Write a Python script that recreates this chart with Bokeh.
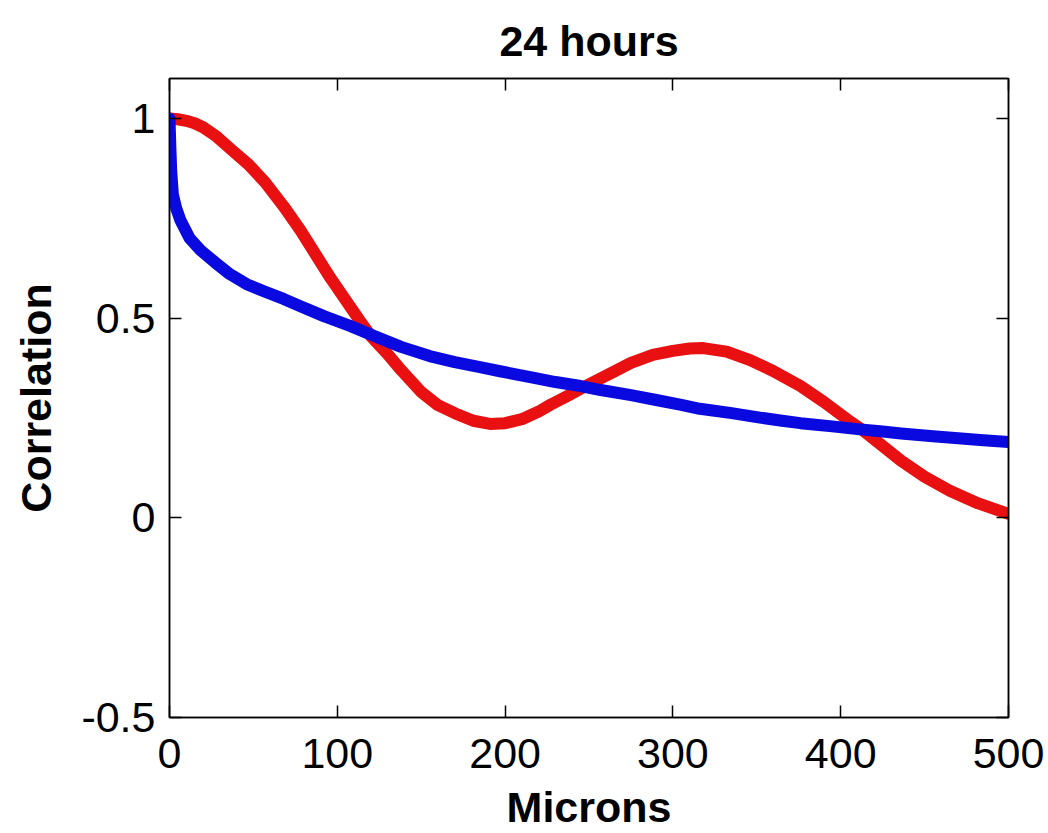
from bokeh.plotting import figure
from bokeh.models import LinearAxis, FixedTicker, Range1d, CustomJSTickFormatter
from bokeh.embed import file_html
from bokeh.resources import INLINE

title_text = "24 hours"
x_label = "Microns"
y_label = "Correlation"

x_ticks = [0, 100, 200, 300, 400, 500]
y_ticks = [-0.5, 0, 0.5, 1]
y_tick_labels = ["-0.5", "0", "0.5", "1"]

red_x = [0, 5, 10, 15, 20, 28, 36, 47, 57, 68, 78, 87, 96, 105, 114, 120, 130, 138, 150, 160, 170, 181, 191,
         200, 210, 220, 227, 238, 248, 262, 275, 288, 300, 310, 318, 332, 346, 360, 376, 390, 406, 413, 425,
         436, 450, 465, 482, 500]
red_y = [1.0, 0.998, 0.994, 0.988, 0.978, 0.955, 0.925, 0.885, 0.84, 0.78, 0.72, 0.66, 0.60, 0.545, 0.49,
         0.455, 0.41, 0.37, 0.315, 0.282, 0.262, 0.243, 0.235, 0.237, 0.247, 0.266, 0.283, 0.307, 0.33, 0.36,
         0.388, 0.408, 0.418, 0.424, 0.425, 0.416, 0.395, 0.367, 0.33, 0.29, 0.24, 0.22, 0.18, 0.143, 0.103,
         0.068, 0.036, 0.01]

blue_x = [0, 0.5, 1, 2, 4, 6.5, 12, 18.5, 27, 36, 46, 57, 68, 78, 92, 108, 122, 138, 155, 170, 185, 197,
          215, 230, 245, 257, 275, 290, 305, 316, 335, 350, 365, 376, 395, 410, 425, 436, 455, 470, 485, 500]
blue_y = [1.0, 0.93, 0.87, 0.81, 0.775, 0.745, 0.70, 0.67, 0.64, 0.61, 0.585, 0.566, 0.548, 0.53, 0.505,
          0.48, 0.455, 0.428, 0.405, 0.39, 0.377, 0.367, 0.352, 0.34, 0.33, 0.32, 0.307, 0.295, 0.283, 0.273,
          0.262, 0.252, 0.243, 0.237, 0.229, 0.222, 0.216, 0.211, 0.204, 0.199, 0.194, 0.19]

FONT = "Liberation Sans"

p = figure(width=1048, height=833, output_backend="svg", toolbar_location=None,
           x_range=Range1d(0, 500), y_range=Range1d(-0.5, 1.1),
           min_border_left=169, min_border_right=40, min_border_top=78, min_border_bottom=113)
p.xgrid.visible = False
p.ygrid.visible = False
p.background_fill_color = "white"
p.border_fill_color = "white"
p.outline_line_color = "black"
p.outline_line_width = 1.5

p.title.text = title_text
p.title.align = "center"
p.title.vertical_align = "top"
p.title.text_font = FONT
p.title.text_font_size = "43px"
p.title.text_font_style = "bold"
p.title.text_color = "black"
p.title.standoff = 24

for ax in p.xaxis:
    ax.ticker = FixedTicker(ticks=x_ticks)
    ax.axis_label = x_label
    ax.major_label_standoff = 21
    ax.axis_label_standoff = 12
for ax in p.yaxis:
    ax.ticker = FixedTicker(ticks=y_ticks)
    ax.axis_label = y_label
    ax.major_label_overrides = {t: l for t, l in zip(y_ticks, y_tick_labels)}
    ax.major_label_standoff = 14
    ax.axis_label_standoff = 18

for ax in list(p.xaxis) + list(p.yaxis):
    ax.major_label_text_font = FONT
    ax.major_label_text_font_size = "43px"
    ax.major_label_text_color = "black"
    ax.axis_label_text_font = FONT
    ax.axis_label_text_font_size = "43px"
    ax.axis_label_text_font_style = "bold"
    ax.axis_label_text_color = "black"
    ax.major_tick_in = 12
    ax.major_tick_out = 0
    ax.minor_tick_in = 0
    ax.minor_tick_out = 0
    ax.axis_line_width = 1.5
    ax.major_tick_line_width = 1.5

blank = CustomJSTickFormatter(code="return ''")
top = LinearAxis(ticker=FixedTicker(ticks=x_ticks), formatter=blank,
                 major_tick_in=12, major_tick_out=0, minor_tick_in=0, minor_tick_out=0,
                 axis_line_width=1.5, major_tick_line_width=1.5, major_label_standoff=0)
right = LinearAxis(ticker=FixedTicker(ticks=y_ticks), formatter=blank,
                   major_tick_in=12, major_tick_out=0, minor_tick_in=0, minor_tick_out=0,
                   axis_line_width=1.5, major_tick_line_width=1.5, major_label_standoff=0)
p.add_layout(top, "above")
p.add_layout(right, "right")

p.line(red_x, red_y, line_color="#E81010", line_width=12, line_join="round", line_cap="round")
p.line(blue_x, blue_y, line_color="#0A0AE0", line_width=12, line_join="round", line_cap="round")

open("out.html", "w").write(file_html(p, INLINE))
